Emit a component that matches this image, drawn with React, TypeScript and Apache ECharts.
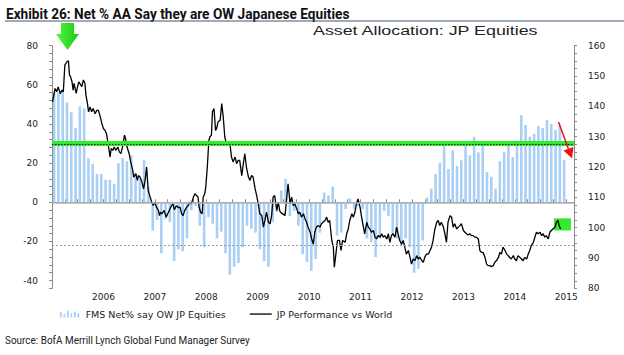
import React, { useEffect, useRef } from "react";
import * as echarts from "echarts";

// ---------- DATA ----------
// Monthly FMS survey: Net % of asset allocators overweight Japanese equities (left axis), Jul 2005 onward
const barStartYear = 2005;
const barStartMonth = 7; // July
const fmsNetOW = [
  56, 56, 57, 51, 46, 38, 49, 48, 22.5, 19.5,
  14.5, 14.5, 11.5, 11.5, 9.5, 20, 22.5, 21, 24, 15,
  12, 21.5, 8, -14.5, -9, -26, -8.5, -10, -30, -24,
  -25, -18.5, -4, -2, -12, -23, -7.5, -11, -18.5, -15,
  -26, -37, -33, -31, -23, -12, -13.5, -15.5, -24, -30,
  -33, -10, -5, 6, 12, -7, -4.5, -12, -26.5, -30.5,
  -35, -29, -15.5, 5, 3.5, 8, -17, -15.5, -3.5, 2,
  -3.5, -2, -3.5, -18.5, -20.5, -28, -18.5, -4.5, -7, -17,
  -18.5, -22, -18.5, -23, -36, -34, -19.5, 2.5, 7, 14.5,
  20, 30.5, 17, 26.5, 18.5, 21.5, 30, 24, 33.5, 25.5,
  30, 15.5, 13, 7, 21, 25.5, 30, 23, 31.5, 44.5,
  39.5, 33.5, 35, 39, 38, 42, 40, 37, 39.5, 21.5,
];

// JP performance vs World (right axis): [year fraction, index]
const jpVsWorld: [number, number][] = [
  [2005.51, 141.5], [2005.56, 145.9], [2005.59, 144.8], [2005.62, 146.4], [2005.66, 144.2], [2005.69, 145.3],
  [2005.72, 144.8], [2005.75, 153.6], [2005.79, 154.7], [2005.82, 155.0], [2005.84, 150.3], [2005.86, 149.8],
  [2005.89, 148.1], [2005.91, 145.3], [2005.93, 147.6], [2005.97, 144.3], [2005.99, 145.9], [2006.02, 148.1],
  [2006.04, 147.6], [2006.08, 146.5], [2006.11, 148.7], [2006.14, 147.6], [2006.16, 143.7], [2006.19, 140.9],
  [2006.21, 138.2], [2006.24, 139.8], [2006.27, 138.2], [2006.30, 139.3], [2006.34, 137.6], [2006.37, 138.7],
  [2006.40, 138.7], [2006.43, 137.1], [2006.47, 134.3], [2006.50, 132.7], [2006.53, 132.1], [2006.56, 131.0],
  [2006.59, 127.7], [2006.63, 123.3], [2006.65, 126.1], [2006.68, 125.5], [2006.71, 126.6], [2006.74, 125.5],
  [2006.78, 126.6], [2006.81, 125.0], [2006.84, 124.4], [2006.87, 126.6], [2006.91, 130.5], [2006.93, 129.4],
  [2006.96, 126.6], [2007.00, 124.4], [2007.03, 121.7], [2007.07, 118.9], [2007.09, 116.7], [2007.13, 117.8],
  [2007.16, 115.6], [2007.18, 117.2], [2007.21, 116.7], [2007.24, 115.6], [2007.28, 112.8], [2007.31, 115.6],
  [2007.34, 120.0], [2007.37, 112.3], [2007.40, 110.6], [2007.44, 108.4], [2007.47, 107.3], [2007.50, 108.4],
  [2007.53, 106.8], [2007.57, 105.7], [2007.59, 104.0], [2007.61, 105.1], [2007.64, 104.6], [2007.68, 105.7],
  [2007.72, 103.5], [2007.75, 104.6], [2007.78, 105.7], [2007.81, 106.8], [2007.85, 107.9], [2007.88, 105.9],
  [2007.92, 107.3], [2007.96, 106.6], [2007.99, 106.8], [2008.02, 104.6], [2008.05, 104.0], [2008.08, 105.7],
  [2008.12, 106.8], [2008.15, 107.3], [2008.18, 108.4], [2008.21, 107.9], [2008.25, 110.1], [2008.28, 111.2],
  [2008.31, 110.6], [2008.34, 110.1], [2008.36, 106.8], [2008.39, 105.1], [2008.42, 104.6], [2008.44, 110.1],
  [2008.47, 111.2], [2008.49, 113.4], [2008.52, 120.0], [2008.55, 128.8], [2008.57, 129.9], [2008.60, 130.5],
  [2008.62, 138.2], [2008.65, 139.3], [2008.68, 132.1], [2008.70, 132.7], [2008.73, 134.9], [2008.77, 135.4],
  [2008.80, 140.9], [2008.83, 136.5], [2008.86, 129.9], [2008.89, 127.7], [2008.93, 128.3], [2008.96, 127.7],
  [2008.99, 123.3], [2009.02, 121.7], [2009.06, 123.3], [2009.09, 121.1], [2009.12, 122.2], [2009.15, 122.2],
  [2009.19, 117.2], [2009.22, 121.1], [2009.25, 124.4], [2009.28, 120.0], [2009.32, 116.7], [2009.35, 115.6],
  [2009.38, 117.2], [2009.41, 116.7], [2009.45, 112.8], [2009.48, 110.6], [2009.51, 107.9], [2009.54, 104.6],
  [2009.58, 104.0], [2009.61, 100.2], [2009.64, 102.4], [2009.67, 105.1], [2009.71, 101.8], [2009.74, 101.3],
  [2009.77, 104.0], [2009.80, 110.1], [2009.83, 110.6], [2009.87, 105.7], [2009.90, 108.4], [2009.93, 105.5],
  [2009.96, 104.8], [2010.00, 104.4], [2010.03, 104.0], [2010.06, 109.0], [2010.09, 114.5], [2010.13, 107.9],
  [2010.16, 110.1], [2010.19, 107.3], [2010.22, 107.9], [2010.26, 106.2], [2010.29, 104.6], [2010.32, 105.1],
  [2010.35, 103.5], [2010.39, 104.6], [2010.42, 102.9], [2010.45, 101.8], [2010.48, 100.2], [2010.52, 98.5],
  [2010.55, 96.3], [2010.58, 94.6], [2010.61, 98.5], [2010.64, 100.2], [2010.68, 100.7], [2010.71, 100.2],
  [2010.74, 101.3], [2010.77, 101.8], [2010.81, 102.4], [2010.84, 103.5], [2010.87, 101.8], [2010.90, 102.4],
  [2010.94, 95.8], [2010.97, 93.6], [2010.99, 87.0], [2011.02, 91.3], [2011.05, 95.8], [2011.09, 95.8],
  [2011.12, 92.5], [2011.15, 95.8], [2011.20, 95.2], [2011.23, 98.0], [2011.26, 99.6], [2011.29, 102.4],
  [2011.33, 104.6], [2011.36, 103.5], [2011.39, 105.1], [2011.42, 107.9], [2011.45, 109.5], [2011.49, 106.8],
  [2011.52, 103.5], [2011.55, 100.7], [2011.58, 98.0], [2011.62, 101.8], [2011.65, 100.2], [2011.68, 99.6],
  [2011.71, 98.5], [2011.75, 99.1], [2011.78, 96.9], [2011.81, 96.3], [2011.84, 97.4], [2011.88, 96.9],
  [2011.91, 98.0], [2011.94, 96.9], [2011.97, 97.4], [2012.01, 96.3], [2012.04, 98.0], [2012.07, 95.2],
  [2012.10, 97.4], [2012.13, 98.0], [2012.17, 96.9], [2012.20, 100.2], [2012.23, 98.0], [2012.26, 95.8],
  [2012.30, 94.6], [2012.33, 95.8], [2012.36, 93.6], [2012.39, 91.3], [2012.43, 92.5], [2012.46, 90.3],
  [2012.49, 88.0], [2012.52, 89.7], [2012.56, 89.2], [2012.59, 90.8], [2012.62, 89.7], [2012.65, 90.3],
  [2012.69, 89.2], [2012.72, 88.6], [2012.75, 90.3], [2012.78, 91.3], [2012.82, 91.3], [2012.85, 92.5],
  [2012.88, 93.6], [2012.91, 95.8], [2012.94, 99.1], [2012.98, 101.8], [2013.01, 102.4], [2013.04, 100.7],
  [2013.07, 101.8], [2013.11, 100.2], [2013.14, 98.0], [2013.17, 95.2], [2013.20, 101.8], [2013.24, 104.0],
  [2013.27, 103.5], [2013.30, 100.2], [2013.33, 101.3], [2013.37, 99.6], [2013.40, 100.2], [2013.43, 100.7],
  [2013.46, 101.3], [2013.50, 99.1], [2013.53, 98.5], [2013.56, 98.0], [2013.59, 97.6], [2013.62, 98.0],
  [2013.66, 97.4], [2013.69, 97.4], [2013.72, 96.9], [2013.75, 96.9], [2013.79, 96.3], [2013.82, 92.5],
  [2013.85, 91.9], [2013.88, 91.9], [2013.92, 90.2], [2013.95, 88.0], [2013.98, 87.5], [2014.01, 87.5],
  [2014.05, 87.2], [2014.08, 87.5], [2014.11, 88.6], [2014.14, 89.1], [2014.18, 90.2], [2014.21, 91.9],
  [2014.24, 91.3], [2014.27, 93.6], [2014.31, 92.5], [2014.34, 91.3], [2014.37, 90.8], [2014.40, 90.2],
  [2014.43, 89.7], [2014.47, 90.8], [2014.50, 89.7], [2014.53, 89.1], [2014.56, 90.8], [2014.60, 90.2],
  [2014.63, 89.7], [2014.66, 89.1], [2014.69, 90.2], [2014.73, 89.7], [2014.76, 91.3], [2014.79, 92.5],
  [2014.82, 94.1], [2014.86, 95.2], [2014.89, 96.9], [2014.92, 98.5], [2014.95, 98.0], [2014.99, 98.5],
  [2015.02, 97.4], [2015.05, 98.0], [2015.08, 96.9], [2015.11, 97.4], [2015.15, 96.3], [2015.18, 98.5],
  [2015.21, 99.1], [2015.24, 99.6], [2015.28, 100.2], [2015.31, 101.8], [2015.34, 102.4], [2015.36, 100.7],
  [2015.39, 99.6],
];

// Reference levels on the left axis
const greenLevel = 30.4;
const upperAvgLevel = 29.7;
const lowerAvgLevel = -22;
// Highlight box on the latest JP performance values
const boxFrom: [number, number] = [2015.26, 103.1];
const boxTo: [number, number] = [2015.59, 99.1];

const barName = "FMS Net% say OW JP Equities";
const lineName = "JP Performance vs World";
const titleText = "Exhibit 26: Net % AA Say they are OW Japanese Equities";
const subTitleText = "Asset Allocation: JP Equities";
const sourceText = "Source: BofA Merrill Lynch Global Fund Manager Survey";

function measure(text: string, font: string): number {
  const ctx = document.createElement("canvas").getContext("2d");
  if (!ctx) return 1;
  ctx.font = font;
  return ctx.measureText(text).width || 1;
}

export default function App() {
  const ref = useRef<HTMLDivElement>(null);
  useEffect(() => {
    if (!ref.current) return;
    const chart = echarts.init(ref.current, null, { renderer: "svg" });

    const startYear = barStartYear + (barStartMonth - 1) / 12;
    const barData = fmsNetOW.map((v, i) => [startYear + (i + 0.5) / 12, v]);

    const titleFont = 'bold 15px Roboto';
    const subFont = '12px "Liberation Sans"';
    const srcFont = '10.5px Roboto';
    const titleScale = 344 / measure(titleText, titleFont);
    const subScale = 226 / measure(subTitleText, subFont);
    const srcScale = 245 / measure(sourceText, srcFont);

    const axisColor = "#8a8a8a";
    const labelStyle = { fontFamily: "DejaVu Sans", fontSize: 9, color: "#222" };

    const option: any = {
      animation: false,
      backgroundColor: "#fff",
      grid: { left: 52, right: 50, top: 45.7, bottom: 66.6 },
      legend: {
        left: 55,
        top: 304,
        itemWidth: 22,
        itemHeight: 7,
        itemGap: 24,
        textStyle: { fontFamily: "DejaVu Sans", fontSize: 9.5, color: "#222" },
        data: [
          {
            name: barName,
            icon: "path://M0,10V4H2V10ZM4,10V6H6V10ZM8,10V2H10V10ZM12,10V5H14V10ZM16,10V3H18V10ZM20,10V5H22V10Z",
          },
          {
            name: lineName,
            icon: "path://M0,0L0,0M0,2.9H22V4.2H0ZM22,7L22,7",
          },
        ],
      },
      xAxis: {
        type: "value",
        min: 2005.5,
        max: 2015.65,
        interval: 0.25,
        axisLine: { lineStyle: { color: axisColor, width: 1 } },
        axisTick: { inside: true, length: 3, lineStyle: { color: axisColor } },
        axisLabel: {
          ...labelStyle,
          margin: 4,
          formatter: (v: number) =>
            Math.abs((v % 1) - 0.5) < 1e-6 && v > 2006 ? String(Math.floor(v)) : "",
        },
        splitLine: { show: false },
      },
      yAxis: [
        {
          type: "value",
          position: "left",
          min: -44,
          max: 80,
          interval: 4,
          axisLine: { show: true, lineStyle: { color: axisColor, width: 1 } },
          axisTick: { show: true, length: 3, lineStyle: { color: axisColor } },
          axisLabel: {
            ...labelStyle,
            margin: 14,
            formatter: (v: number) => (v % 20 === 0 ? String(v) : ""),
          },
          splitLine: { show: false },
        },
        {
          type: "value",
          position: "right",
          min: 80,
          max: 160,
          interval: 2.5,
          axisLine: { show: true, lineStyle: { color: axisColor, width: 1 } },
          axisTick: { show: true, length: 3, lineStyle: { color: axisColor } },
          axisLabel: {
            ...labelStyle,
            margin: 14,
            formatter: (v: number) => (v % 10 === 0 ? String(v) : ""),
          },
          splitLine: { show: false },
        },
      ],
      series: [
        {
          name: barName,
          type: "bar",
          yAxisIndex: 0,
          data: barData,
          barWidth: 2.6,
          itemStyle: { color: "#a9cff5" },
          z: 2,
          markLine: {
            silent: true,
            symbol: "none",
            label: { show: false },
            data: [
              { yAxis: 0, lineStyle: { color: "#b3b3b3", width: 1.5, type: "solid" } },
              { yAxis: greenLevel, lineStyle: { color: "#33ea2e", width: 5, type: "solid" } },
              { yAxis: upperAvgLevel, lineStyle: { color: "#1a1a1a", width: 1, type: [1.5, 1.5] } },
              { yAxis: lowerAvgLevel, lineStyle: { color: "#9a9a9a", width: 1, type: [2, 2] } },
            ],
          },
        },
        {
          name: lineName,
          type: "line",
          yAxisIndex: 1,
          data: jpVsWorld,
          symbol: "none",
          z: 4,
          lineStyle: { color: "#000", width: 1.3 },
          itemStyle: { color: "#000" },
          markArea: {
            silent: true,
            itemStyle: { color: "#33ea2e" },
            data: [[{ xAxis: boxFrom[0], yAxis: boxFrom[1] }, { xAxis: boxTo[0], yAxis: boxTo[1] }]],
          },
        },
      ],
      graphic: [
        {
          type: "text",
          x: 6,
          y: 14,
          scaleX: titleScale,
          style: {
            text: titleText,
            fontFamily: "Roboto",
            fontWeight: "bold",
            fontSize: 15,
            fill: "#111",
            verticalAlign: "middle",
          },
        },
        {
          type: "line",
          shape: { x1: 5, y1: 21, x2: 624, y2: 21 },
          style: { stroke: "#44557a", lineWidth: 1.2 },
        },
        {
          type: "text",
          x: 313,
          y: 31,
          scaleX: subScale,
          style: {
            text: subTitleText,
            fontFamily: "Liberation Sans",
            fontSize: 12,
            fill: "#222",
            verticalAlign: "middle",
          },
        },
        {
          type: "text",
          x: 5,
          y: 340.5,
          scaleX: srcScale,
          style: {
            text: sourceText,
            fontFamily: "Roboto",
            fontSize: 10.5,
            fill: "#222",
            verticalAlign: "middle",
          },
        },
        {
          type: "polygon",
          shape: {
            points: [[61, 23], [74, 23], [74, 34], [79, 34], [67.5, 50], [56, 34], [61, 34]],
          },
          style: {
            fill: new echarts.graphic.LinearGradient(0, 0, 1, 0, [
              { offset: 0, color: "#55f53a" },
              { offset: 1, color: "#18c81a" },
            ]),
          },
          z: 10,
        },
        {
          type: "line",
          shape: { x1: 558.5, y1: 122, x2: 568.4, y2: 148.7 },
          style: { stroke: "#e8141a", lineWidth: 1.5 },
          z: 10,
        },
        {
          type: "polygon",
          shape: { points: [[573.5, 146.9], [563.5, 150.5], [572, 158.5]] },
          style: { fill: "#e8141a" },
          z: 10,
        },
      ],
    };

    chart.setOption(option);
    return () => chart.dispose();
  }, []);

  return (
    <div
      ref={ref}
      style={{ position: "absolute", left: 0, top: 0, width: 624, height: 355 }}
    />
  );
}
